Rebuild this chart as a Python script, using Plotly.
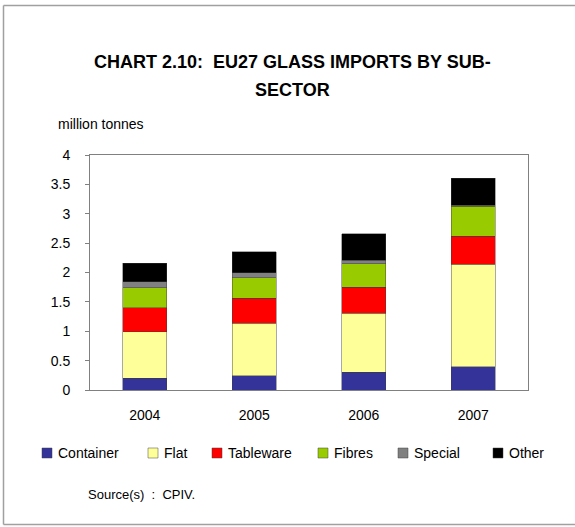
import plotly.graph_objects as go

# EU27 glass imports by sub-sector, million tonnes
years = ["2004", "2005", "2006", "2007"]
container = [0.20, 0.24, 0.30, 0.40]
flat = [0.79, 0.90, 1.01, 1.74]
tableware = [0.41, 0.42, 0.44, 0.48]
fibres = [0.34, 0.35, 0.40, 0.51]
special = [0.10, 0.085, 0.06, 0.015]
other = [0.32, 0.36, 0.45, 0.46]

series_names = ["Container", "Flat", "Tableware", "Fibres", "Special", "Other"]
series_values = [container, flat, tableware, fibres, special, other]
series_colors = ["#333399", "#FFFF99", "#FF0000", "#99CC00", "#808080", "#000000"]
y_ticks = [0, 0.5, 1, 1.5, 2, 2.5, 3, 3.5, 4]
title_lines = ["CHART 2.10:\u00a0\u00a0EU27 GLASS IMPORTS BY SUB-", "SECTOR"]

W, H = 575, 527
L, R, T, B = 90, 47, 155, 137
PW, PH = W - L - R, H - T - B


def px_x(x):
    return (x - L) / PW


def px_y(y):
    return (H - B - y) / PH


BASE_FONT = "Liberation Sans, Arial, sans-serif"

fig = go.Figure()
for name, vals, col in zip(series_names, series_values, series_colors):
    fig.add_trace(go.Bar(
        x=years, y=vals, name=name, showlegend=False,
        marker=dict(color=col, line=dict(color="rgba(60,60,60,0.55)", width=0.8)),
    ))

fig.update_layout(
    width=W, height=H,
    margin=dict(l=L, r=R, t=T, b=B),
    barmode="stack", bargap=0.6,
    paper_bgcolor="white", plot_bgcolor="white",
    font=dict(family=BASE_FONT, size=14, color="#000000"),
    xaxis=dict(
        showline=True, linecolor="#808080", linewidth=1, mirror=True,
        ticks="", showgrid=False, ticklabelstandoff=12,
        tickfont=dict(size=14),
    ),
    yaxis=dict(
        range=[0, 4], tickvals=y_ticks, ticktext=[f"{v:g}" for v in y_ticks],
        showline=True, linecolor="#808080", linewidth=1, mirror=True,
        ticks="outside", ticklen=4, tickcolor="#808080",
        showgrid=False, zeroline=False, ticklabelstandoff=12,
        tickfont=dict(size=14),
    ),
)

# Title, two centred lines
for line, ty in zip(title_lines, [62, 90]):
    fig.add_annotation(
        text=f"<b>{line}</b>",
        xref="paper", yref="paper", x=px_x(292), y=px_y(ty),
        xanchor="center", yanchor="middle", showarrow=False,
        font=dict(size=18, color="#000000"),
    )
# Unit label
fig.add_annotation(
    text="million tonnes", xref="paper", yref="paper",
    x=px_x(56), y=px_y(124), xanchor="left", yanchor="middle",
    showarrow=False, font=dict(size=14),
)
# Source note
fig.add_annotation(
    text="Source(s)\u00a0\u00a0:\u00a0\u00a0CPIV.", xref="paper", yref="paper",
    x=px_x(86), y=px_y(494), xanchor="left", yanchor="middle",
    showarrow=False, font=dict(size=13),
)

# Legend row: colour squares with labels
legend_left = [42, 148, 212, 318, 398, 493]
legend_y = 453
for name, col, lx in zip(series_names, series_colors, legend_left):
    fig.add_shape(
        type="rect", xref="paper", yref="paper",
        x0=px_x(lx), x1=px_x(lx + 10), y0=px_y(legend_y + 5), y1=px_y(legend_y - 5),
        fillcolor=col, line=dict(color="rgba(60,60,60,0.6)", width=0.8),
    )
    fig.add_annotation(
        text=name, xref="paper", yref="paper",
        x=px_x(lx + 14), y=px_y(legend_y), xanchor="left", yanchor="middle",
        showarrow=False, font=dict(size=14),
    )

# Outer frame (left, top, bottom edges)
frame = dict(color="#A0A0A0", width=1.5)
x0, x1 = px_x(3.5), px_x(W + 2)
y_top, y_bot = px_y(5.5), px_y(524.5)
fig.add_shape(type="line", xref="paper", yref="paper", x0=x0, x1=x0, y0=y_bot, y1=y_top, line=frame)
fig.add_shape(type="line", xref="paper", yref="paper", x0=x0, x1=x1, y0=y_top, y1=y_top, line=frame)
fig.add_shape(type="line", xref="paper", yref="paper", x0=x0, x1=x1, y0=y_bot, y1=y_bot, line=frame)

fig.write_html("out.html")
